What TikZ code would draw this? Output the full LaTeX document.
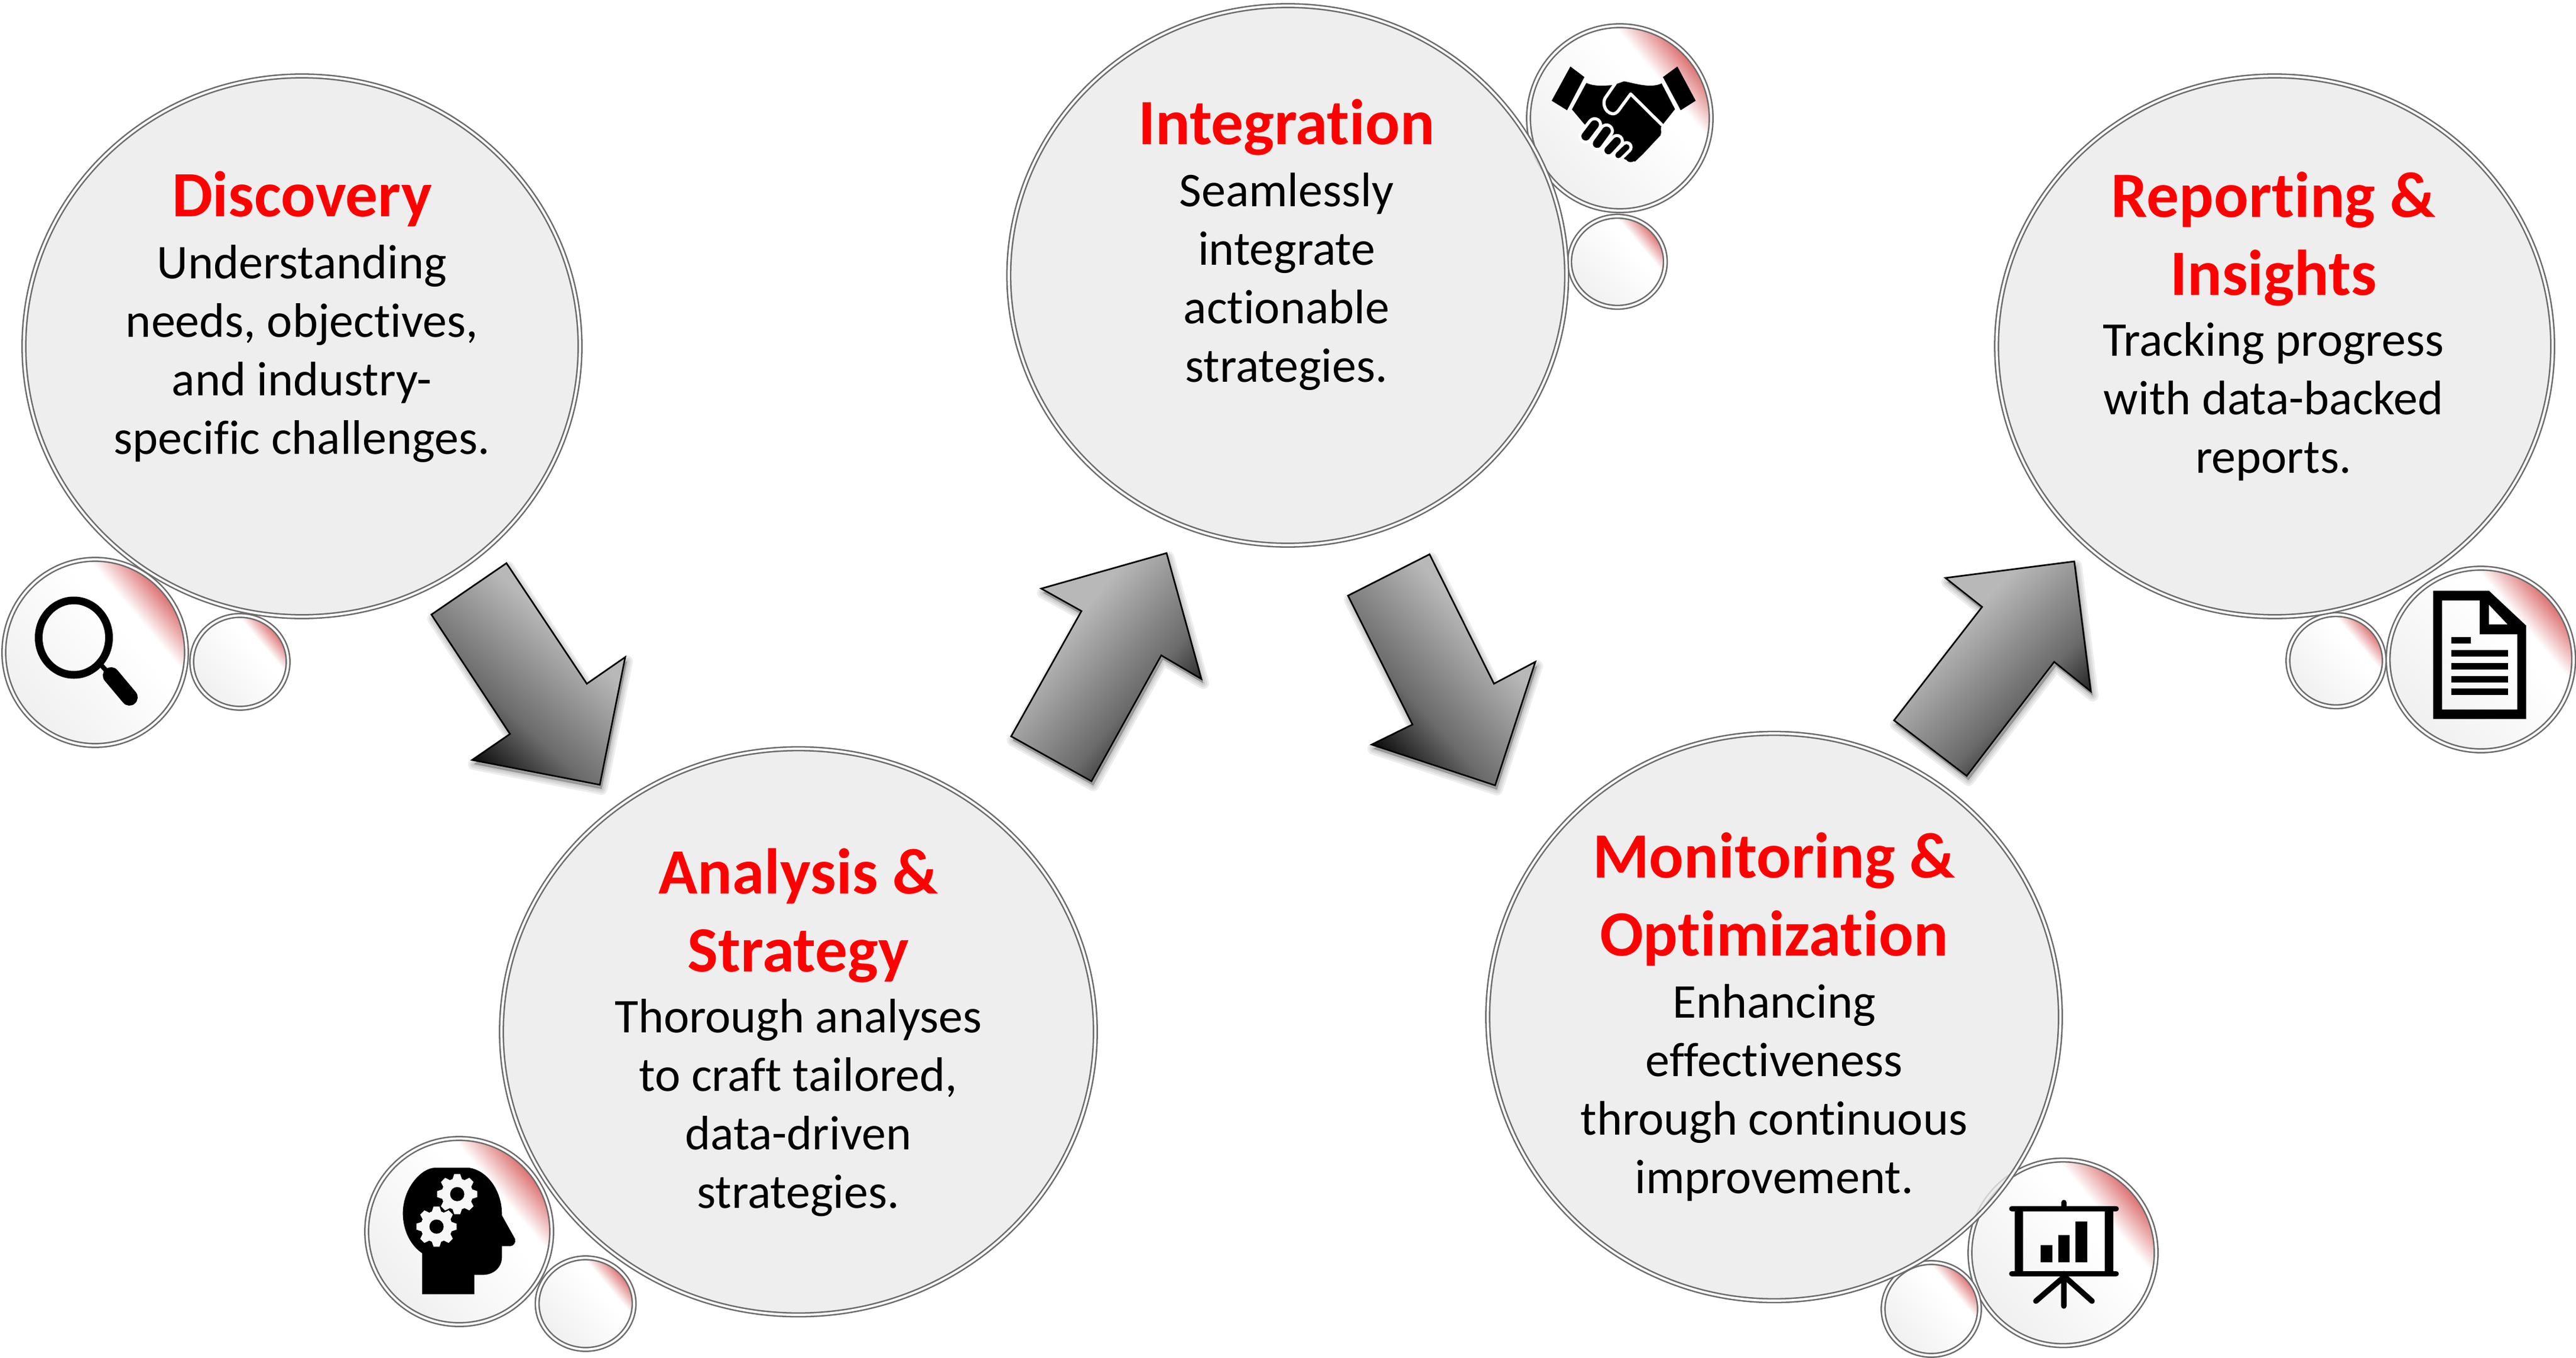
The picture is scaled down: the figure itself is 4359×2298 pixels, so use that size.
\documentclass[tikz,border=0pt]{standalone}
\usepackage{fontspec}
\setmainfont{Carlito}[Ligatures=NoCommon]
\usetikzlibrary{shapes.geometric}

\pgfdeclarehorizontalshading{glossring}{100bp}{rgb(0bp)=(.94,.94,.94); rgb(25bp)=(.94,.94,.94); rgb(60bp)=(1,1,1); rgb(65bp)=(1,1,1); rgb(75bp)=(.86,.42,.42); rgb(100bp)=(.86,.42,.42)}
\pgfdeclarehorizontalshading{arrowgrad}{100bp}{rgb(0bp)=(0,0,0); rgb(24bp)=(0,0,0); rgb(40bp)=(.42,.42,.42); rgb(63bp)=(.72,.72,.72); rgb(100bp)=(.72,.72,.72)}

\definecolor{ringgray}{RGB}{108,108,108}
\definecolor{stagegray}{RGB}{234,234,234}
\definecolor{titlered}{RGB}{255,0,0}

\tikzset{every picture/.style={line width=0.75pt},
  ringsize/.style 2 args={minimum width=#1*0.75pt,minimum height=#2*0.75pt},
  ringline/.style={ellipse,inner sep=0pt,draw=ringgray,line width=1.9pt,double=white,double distance=2.8pt},
  stage/.style={ringline,fill=stagegray,fill opacity=0.8},
  iconring/.style={ringline,shade,shading=glossring,shading angle=40},
  stagetitle/.style={anchor=north,inner sep=0pt,align=center,text=titlered,font=\fontsize{82}{99}\selectfont\bfseries,execute at begin node=\strut},
  stagebody/.style={anchor=north,inner sep=0pt,align=center,text=black,font=\fontsize{61.5}{74.25}\selectfont,execute at begin node=\strut},
  blockarrow/.style={draw=black,line width=2pt,miter limit=10,shading=arrowgrad},
  arrowblur/.style={draw=black,fill=black,opacity=0.07,line join=round,shift={(3,7)}}
}

\newcommand{\blockarrow}[2]{%
  \foreach \w in {15,10,5,1} {\draw[arrowblur,line width=\w pt] #2;}
  \shadedraw[blockarrow,shading angle=#1] #2;
}

\begin{document}
\begin{tikzpicture}[x=0.75pt,y=0.75pt,yscale=-1,xscale=1]
\useasboundingbox (0,0) rectangle (4359,2298);

%Icon rings go under the big circles
\node (discoveryIcon) [iconring,ringsize={309}{315}] at (161,1104) {};
\node (discoveryDot) [iconring,ringsize={163}{157}] at (406,1120) {};
\node (analysisIcon) [iconring,ringsize={313}{315}] at (777,2084) {};
\node (analysisDot) [iconring,ringsize={164}{155}] at (991,2206) {};
\node (integrationIcon) [iconring,ringsize={309}{313}] at (2741,200) {};
\node (integrationDot) [iconring,ringsize={162}{154}] at (2737,443) {};
\node (monitoringIcon) [iconring,ringsize={315}{314}] at (3491,2120) {};
\node (monitoringDot) [iconring,ringsize={163}{157}] at (3268,2215) {};
\node (reportingIcon) [iconring,ringsize={314}{309}] at (4198,1116) {};
\node (reportingDot) [iconring,ringsize={163}{156}] at (3953,1118) {};

%Big circles
\node (discovery) [stage,ringsize={941}{915}] at (511,586) {};
\node (analysis) [stage,ringsize={1005}{958}] at (1351,1746) {};
\node (integration) [stage,ringsize={944}{913}] at (2179,466) {};
\node (monitoring) [stage,ringsize={969}{960}] at (3002,1721) {};
\node (reporting) [stage,ringsize={941}{915}] at (3849,586) {};

%Texts
\node (discoveryTitle) [stagetitle] at (511,274) {Discovery};
\node (discoveryBody) [stagebody] at (511,414) {Understanding\\needs, objectives,\\and industry-\\specific challenges.};
\node (analysisTitle) [stagetitle] at (1351,1435) {Analysis \&\\Strategy};
\node (analysisBody) [stagebody] at (1351,1690) {Thorough analyses\\to craft tailored,\\data-driven\\strategies.};
\node (integrationTitle) [stagetitle] at (2177,152) {Integration};
\node (integrationBody) [stagebody] at (2177,292) {Seamlessly\\integrate\\actionable\\strategies.};
\node (monitoringTitle) [stagetitle] at (3002,1408) {Monitoring \&\\Optimization};
\node (monitoringBody) [stagebody] at (3002,1665) {Enhancing\\effectiveness\\through continuous\\improvement.};
\node (reportingTitle) [stagetitle] at (3847,290) {Reporting \&\\Insights};
\node (reportingBody) [stagebody] at (3847,545) {Tracking progress\\with data-backed\\reports.};

%Shape: Block arrows
\blockarrow{48}{(857,953) -- (730,1040) -- (863,1242) -- (799,1286) -- (1015,1328) -- (1058,1112) -- (993,1157) -- cycle}
\blockarrow{140}{(1974,936) -- (1762,996) -- (1830,1034) -- (1711,1246) -- (1847,1322) -- (1965,1109) -- (2033,1149) -- cycle}
\blockarrow{42}{(2419,938) -- (2281,1008) -- (2390,1226) -- (2321,1260) -- (2530,1329) -- (2598,1120) -- (2528,1157) -- cycle}
\blockarrow{135}{(3510,950) -- (3292,978) -- (3354,1027) -- (3205,1219) -- (3328,1313) -- (3476,1120) -- (3538,1170) -- cycle}

%Shape: Magnifier
\draw [line width=9.75pt] (125,1079) ellipse [x radius=59.5,y radius=63];
\draw [line width=6pt] (168,1122) -- (190,1146);
\draw [line width=21pt,line cap=round] (188,1143) -- (219,1180);

%Shape: Head with gears
\begin{scope}[shift={(580,1880)},x=0.25pt,y=0.25pt]
\fill (403,930) -- (403,722) .. controls (340,680) and (305,600) .. (305,520) .. controls (305,390) and (400,288) .. (470,288) -- (640,288) .. controls (730,300) and (810,400) .. (808,530) -- (875,650) .. controls (880,670) and (865,686) .. (850,686) -- (808,686) -- (808,740) .. controls (808,800) and (760,832) .. (710,832) -- (668,832) -- (668,930) -- cycle;
\foreach \gx/\gy in {581/422,476/587} {
  \fill [white!97!black] (\gx,\gy) circle (80);
  \foreach \a in {0,45,...,315}
    \fill [white!97!black,shift={(\gx,\gy)},rotate=\a] (-15,-102) -- (15,-102) -- (26,-70) -- (-26,-70) -- cycle;
  \fill (\gx,\gy) circle (36);
}
\end{scope}

%Shape: Handshake
\begin{scope}[shift={(2500,0)},x=0.25pt,y=0.268pt]
\fill (472,315) -- (543,365) -- (455,522) -- (377,477) -- cycle;
\fill (1015,315) -- (942,365) -- (1032,522) -- (1108,477) -- cycle;
\fill (553,393) .. controls (600,412) and (650,405) .. (690,403) -- (745,385) .. controls (800,395) and (880,420) .. (935,395) -- (1003,517) -- (945,585) -- (932,600) -- (930,640) -- (880,690) -- (840,730) -- (800,765) -- (750,755) -- (540,585) -- (480,518) -- cycle;
\foreach \cx/\cy in {905/625,858/668,818/705,778/740}
  \fill (\cx,\cy) circle (28);
\draw [white,line width=4pt,line cap=round,line join=round] (700,395) -- (648,465) .. controls (625,510) and (680,565) .. (715,525) -- (778,445) -- (935,590);
\foreach \ax/\ay/\bx/\by/\w in {550/645/595/590/11,608/680/655/620/11,665/712/708/668/10,715/735/757/697/7.5} {
  \draw [white,line width=\w pt+8pt,line cap=round] (\ax,\ay) -- (\bx,\by);
  \draw [line width=\w pt,line cap=round] (\ax,\ay) -- (\bx,\by);
}
\end{scope}

%Shape: Presentation board
\begin{scope}[shift={(3150,1920)},x=0.25pt,y=0.25pt]
\draw [line width=7pt,line cap=round] (763,376) -- (1292,376) (763,706) -- (1292,706) (1027,345) -- (1027,376);
\draw [line width=7pt,line cap=round] (1027,706) -- (1027,870) (1030,720) -- (885,845) (1030,720) -- (1170,845);
\fill (778,376) rectangle (820,706) (1235,376) rectangle (1278,706);
\foreach \bx/\by in {910/560,998/510,1087/442}
  \fill (\bx,\by) rectangle (\bx+58,648);
\end{scope}

%Shape: Document
\begin{scope}[shift={(3850,960)},x=0.25pt,y=0.25pt]
\fill [even odd rule] (802,119) -- (1085,119) -- (1274,296) -- (1274,770) -- (802,770) -- cycle
  (847,168) -- (1038,168) -- (1038,340) -- (1229,340) -- (1229,722) -- (847,722) -- cycle
  (1085,190) -- (1180,290) -- (1085,290) -- cycle;
\fill (893,355) rectangle (992,388);
\foreach \ly in {421,486,551,616}
  \fill (893,\ly) rectangle (1183,\ly+33);
\end{scope}
\end{tikzpicture}
\end{document}
